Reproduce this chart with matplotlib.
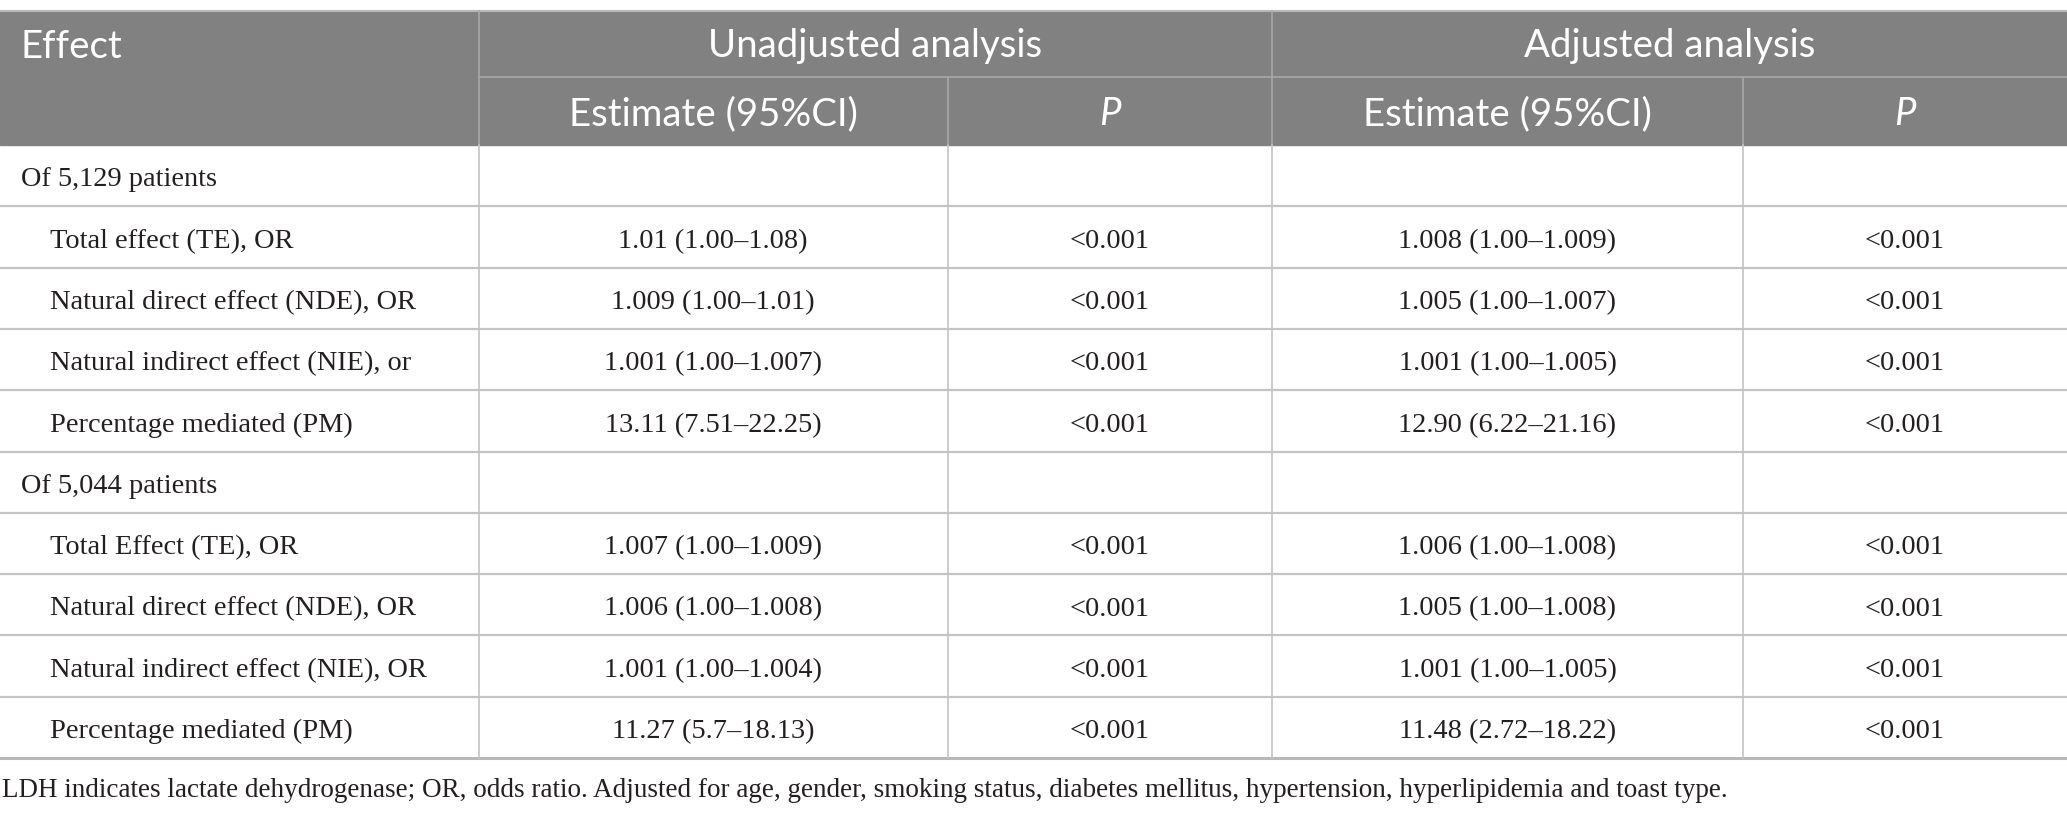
import matplotlib
matplotlib.use('Agg')
import matplotlib.pyplot as plt

# table content
row_labels = ['Of 5,129 patients', 'Total effect (TE), OR', 'Natural direct effect (NDE), OR',
              'Natural indirect effect (NIE), or', 'Percentage mediated (PM)',
              'Of 5,044 patients', 'Total Effect (TE), OR', 'Natural direct effect (NDE), OR',
              'Natural indirect effect (NIE), OR', 'Percentage mediated (PM)']
indented = [False, True, True, True, True, False, True, True, True, True]
unadj_est = ['', '1.01 (1.00\u20131.08)', '1.009 (1.00\u20131.01)', '1.001 (1.00\u20131.007)',
             '13.11 (7.51\u201322.25)', '', '1.007 (1.00\u20131.009)', '1.006 (1.00\u20131.008)',
             '1.001 (1.00\u20131.004)', '11.27 (5.7\u201318.13)']
unadj_p = ['', '<0.001', '<0.001', '<0.001', '<0.001', '', '<0.001', '<0.001', '<0.001', '<0.001']
adj_est = ['', '1.008 (1.00\u20131.009)', '1.005 (1.00\u20131.007)', '1.001 (1.00\u20131.005)',
           '12.90 (6.22\u201321.16)', '', '1.006 (1.00\u20131.008)', '1.005 (1.00\u20131.008)',
           '1.001 (1.00\u20131.005)', '11.48 (2.72\u201318.22)']
adj_p = ['', '<0.001', '<0.001', '<0.001', '<0.001', '', '<0.001', '<0.001', '<0.001', '<0.001']
group_headers = ['Unadjusted analysis', 'Adjusted analysis']
sub_headers = ['Estimate (95%CI)', 'P', 'Estimate (95%CI)', 'P']
footnote = ('LDH indicates lactate dehydrogenase; OR, odds ratio. Adjusted for age, gender, '
            'smoking status, diabetes mellitus, hypertension, hyperlipidemia and toast type.')

W, H = 2067, 815
fig = plt.figure(figsize=(W / 100, H / 100), dpi=100)
ax = fig.add_axes([0, 0, 1, 1])
ax.set_xlim(0, W)
ax.set_ylim(H, 0)
ax.axis('off')

cols = [0, 478.5, 948, 1272, 1743, 2067]
top, mid, hbot = 10.5, 76.5, 145
rh = 61.3

head_bg = '#808180'
line_c = '#c4c4c4'
hfont = 'Lato'
bfont = 'Liberation Serif'
hsize = 27.6
bsize = 20.4
txt_c = '#231f20'

ax.add_patch(plt.Rectangle((0, top), W, hbot - top, color=head_bg, zorder=0))
ax.plot([0, W], [top, top], color='#b8b8b8', lw=1.5)
# header lines
ax.plot([cols[1], W], [mid, mid], color='#a8a8a8', lw=1.2)
for x in [cols[1], cols[3]]:
    ax.plot([x, x], [top, hbot], color='#a8a8a8', lw=1.2)
for x in [cols[2], cols[4]]:
    ax.plot([x, x], [mid, hbot], color='#a8a8a8', lw=1.2)

hb1, hb2 = 57.5, 125
ax.text(21, hb1, 'Effect', color='white', fontsize=hsize, family=hfont,
        va='baseline', ha='left')
ax.text((cols[1] + cols[3]) / 2, hb1, group_headers[0], color='white',
        fontsize=hsize, family=hfont, va='baseline', ha='center')
ax.text((cols[3] + cols[5]) / 2, hb1, group_headers[1], color='white',
        fontsize=hsize, family=hfont, va='baseline', ha='center')
for i, s in enumerate(sub_headers):
    ax.text((cols[i + 1] + cols[i + 2]) / 2, hb2, s, color='white',
            fontsize=hsize, family=hfont, va='baseline', ha='center',
            style='italic' if s == 'P' else 'normal')

# body
n = len(row_labels)
bottom = hbot + n * rh
for i in range(n):
    y0 = hbot + i * rh
    yb = y0 + rh / 2 + 10.8
    x_lab = 50 if indented[i] else 21
    ax.text(x_lab, yb, row_labels[i], fontsize=bsize, family=bfont, va='baseline', ha='left',
            color=txt_c)
    for j, vals in enumerate([unadj_est, unadj_p, adj_est, adj_p]):
        ax.text((cols[j + 1] + cols[j + 2]) / 2, yb, vals[i], fontsize=bsize, family=bfont,
                va='baseline', ha='center', color=txt_c)
    if i > 0:
        ax.plot([0, W], [y0, y0], color=line_c, lw=1.6)
ax.plot([0, W], [bottom, bottom], color='#b8b8b8', lw=2.2)
for x in cols[1:5]:
    ax.plot([x, x], [hbot, bottom], color=line_c, lw=1.2)

ax.text(2, 797, footnote, fontsize=19.5, family=bfont, va='baseline', ha='left',
        color=txt_c)

plt.savefig('out.png', dpi=100)
